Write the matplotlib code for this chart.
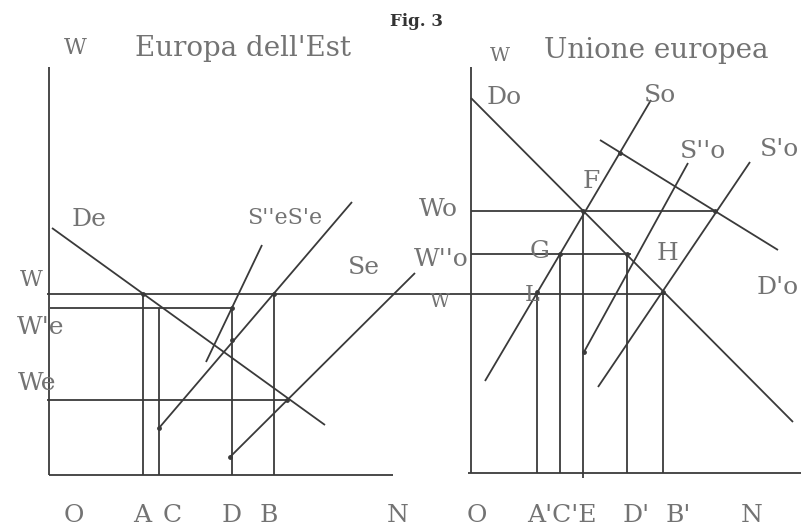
import matplotlib
matplotlib.use("Agg")
import matplotlib.pyplot as plt

# ---- data: two labour-market panels, units ~ chart units from each origin ----
# Left panel: Europa dell'Est
w_left = 181          # W (common wage)
w1_e = 167            # W'e
w_e = 75              # We
q_left = {"A": 94, "C": 110, "D": 183, "B": 225}
de_x, de_y = [3, 276], [247, 50]            # De (demand)
s1e_x, s1e_y = [110, 303], [47, 273]        # S'e
s2e_x, s2e_y = [157, 213], [113, 230]       # S''e
se_x, se_y = [181, 366], [18, 202]          # Se

# Right panel: Unione europea
w_o = 262             # Wo
w2_o = 219            # W''o
w_right = 181         # W
q_right = {"A'": 66, "C'": 89, "E": 112, "D'": 156, "B'": 192}
do_x, do_y = [0, 322], [375, 51]            # Do
d1o_x, d1o_y = [129, 307], [333, 223]       # D'o
so_x, so_y = [14, 180], [92, 373]           # So
s2o_x, s2o_y = [113, 217], [121, 310]       # S''o
s1o_x, s1o_y = [127, 279], [86, 311]        # S'o

left_ticks = ["O", "A", "C", "D", "B", "N"]
left_tick_x = [25, 93, 123, 183, 220, 349]
right_ticks = ["O", "A'C'E", "D'", "B'", "N"]
right_tick_x = [6, 91, 165, 207, 281]

LC = "#3a3a3a"
TC = "#737373"
FONT = "DejaVu Serif"
LW = 1.3
FS = 18

fig = plt.figure(figsize=(8.01, 5.30), dpi=100)
W, H = 801, 530

# panel axes, placed so that one data unit ~ one pixel
axl = fig.add_axes([49 / W, (H - 475) / H, 344 / W, 408 / H])
axr = fig.add_axes([471 / W, (H - 473) / H, 330 / W, 406 / H])
axl.set_xlim(0, 344); axl.set_ylim(0, 408)
axr.set_xlim(0, 330); axr.set_ylim(0, 406)
for ax in (axl, axr):
    ax.axis("off")


def line(ax, xs, ys, **kw):
    ax.plot(xs, ys, color=LC, lw=LW, clip_on=False, solid_capstyle="butt", **kw)


def label(ax, x, y, s, size=FS, **kw):
    ax.text(x, y, s, fontsize=size, color=TC, family=FONT,
            ha="center", va="center", clip_on=False, **kw)


# --- left panel ---
line(axl, [0, 0], [0, 408])
line(axl, [0, 344], [0, 0])
line(axl, de_x, de_y)
line(axl, s1e_x, s1e_y)
line(axl, s2e_x, s2e_y)
line(axl, se_x, se_y)
# W runs across both panels
line(axl, [-2, 616], [w_left, w_left])
line(axl, [1, q_left["D"]], [w1_e, w1_e])
line(axl, [-2, 238], [w_e, w_e])
line(axl, [q_left["A"]] * 2, [0, w_left])
line(axl, [q_left["C"]] * 2, [0, w1_e])
line(axl, [q_left["D"]] * 2, [0, w1_e])
line(axl, [q_left["B"]] * 2, [0, w_left])
dots_l = [(q_left["A"], w_left), (q_left["D"], w1_e), (q_left["B"], w_left),
          (183, 135), (238, w_e), (s1e_x[0], s1e_y[0]), (se_x[0], se_y[0])]
axl.scatter(*zip(*dots_l), s=6, color=LC, zorder=3, clip_on=False)

label(axl, 26, 427, "W", size=16)
label(axl, 194, 427, "Europa dell'Est", size=20)
label(axl, 40, 255, "De")
label(axl, 236, 257, "S''eS'e", size=16)
label(axl, 315, 207, "Se")
label(axl, -18, 195, "W", size=16)
label(axl, -8, 147, "W'e")
label(axl, -12, 92, "We")
for s, x in zip(left_ticks, left_tick_x):
    label(axl, x, -40, s)
axl.text(367, 453, "Fig. 3", fontsize=12, fontweight="bold", color="#333333",
         family=FONT, ha="center", va="center", clip_on=False)

# --- right panel ---
line(axr, [0, 0], [0, 406])
line(axr, [-3, 330], [0, 0])
line(axr, do_x, do_y)
line(axr, d1o_x, d1o_y)
line(axr, so_x, so_y)
line(axr, s2o_x, s2o_y)
line(axr, s1o_x, s1o_y)
line(axr, [0, 244], [w_o, w_o])
line(axr, [0, 160], [w2_o, w2_o])
line(axr, [q_right["A'"]] * 2, [0, w_right])
line(axr, [q_right["C'"]] * 2, [0, w2_o])
line(axr, [q_right["E"]] * 2, [-5, w_o])
line(axr, [q_right["D'"]] * 2, [0, w2_o])
line(axr, [q_right["B'"]] * 2, [0, w_right])
dots_r = [(q_right["E"], w_o), (q_right["C'"], w2_o), (q_right["D'"], w2_o),
          (q_right["A'"], w_right), (q_right["B'"], w_right), (244, w_o),
          (149, 320), (113, 121)]
axr.scatter(*zip(*dots_r), s=6, color=LC, zorder=3, clip_on=False)

label(axr, 29, 417, "W", size=14)
label(axr, 185, 422, "Unione europea", size=20)
label(axr, 33, 376, "Do")
label(axr, 189, 378, "So")
label(axr, 232, 321, "S''o")
label(axr, 309, 323, "S'o")
label(axr, 120, 291, "F")
label(axr, 69, 221, "G")
label(axr, 196, 220, "H")
label(axr, 61, 178, "L", size=16)
label(axr, 307, 186, "D'o")
label(axr, -33, 263, "Wo")
label(axr, -30, 213, "W''o")
label(axr, -31, 171, "W", size=14)
for s, x in zip(right_ticks, right_tick_x):
    label(axr, x, -42, s)

fig.savefig("out.png", dpi=100, facecolor="white")
